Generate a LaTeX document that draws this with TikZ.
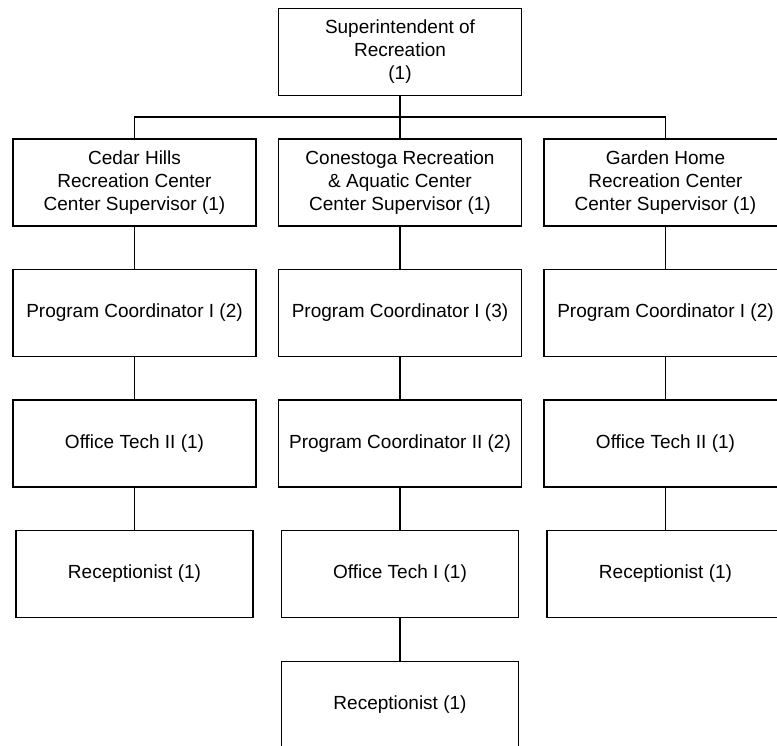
\documentclass[tikz,border=0pt]{standalone}
\usepackage{fontspec}
\setmainfont{Liberation Sans}
\tikzset{post/.style={draw,line width=0.9pt,minimum width=121.5pt,minimum height=43.5pt,align=center,inner sep=0pt,font=\fontsize{9.5}{11.5}\selectfont},
  shortpost/.style={post,minimum width=118.5pt}}
\begin{document}
\begin{tikzpicture}[x=0.5pt,y=-0.5pt]
        \useasboundingbox (0,0) rectangle (777,745);
        \node[post] (super) at (400,52) {Superintendent of\\Recreation\\(1)};
        \node[post] (cedar) at (134.5,182.5) {Cedar Hills\\Recreation Center\\Center Supervisor (1)};
        \node[post] (cones) at (400,182.5) {Conestoga Recreation\\\& Aquatic Center\\Center Supervisor (1)};
        \node[post] (garden) at (665.5,182.5) {Garden Home\\Recreation Center\\Center Supervisor (1)};
        \node[post] (cedarpc) at (134.5,313) {Program Coordinator I (2)};
        \node[post] (conespc) at (400,313) {Program Coordinator I (3)};
        \node[post] (gardenpc) at (665.5,313) {Program Coordinator I (2)};
        \node[post] (cedarot) at (134.5,443.5) {Office Tech II (1)};
        \node[post] (conespctwo) at (400,443.5) {Program Coordinator II (2)};
        \node[post] (gardenot) at (665.5,443.5) {Office Tech II (1)};
        \node[shortpost] (cedarrc) at (134.5,574) {Receptionist (1)};
        \node[shortpost] (conesot) at (400,574) {Office Tech I (1)};
        \node[shortpost] (gardenrc) at (665.5,574) {Receptionist (1)};
        \node[shortpost] (conesrc) at (400,705) {Receptionist (1)};
        \coordinate (busl) at (134.5,117);
        \coordinate (busr) at (665.5,117);
        \draw[line width=0.9pt] (cedar.north)--(busl)--(busr)--(garden.north);
        \draw[line width=0.9pt] (super.south)--(cones.north);
        \draw[line width=0.9pt] (cedar)--(cedarpc)--(cedarot)--(cedarrc);
        \draw[line width=0.9pt] (cones)--(conespc)--(conespctwo)--(conesot)--(conesrc);
        \draw[line width=0.9pt] (garden)--(gardenpc)--(gardenot)--(gardenrc);
    \end{tikzpicture}
\end{document}
